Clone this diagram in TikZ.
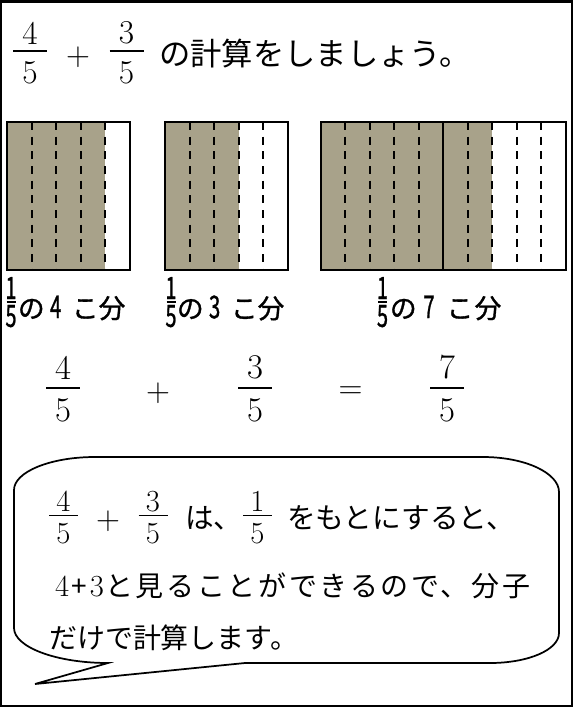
\documentclass[tikz,border=0pt]{standalone}
\usepackage{fontspec}
\usepackage{graphicx}
\usetikzlibrary{calc}
\newfontfamily\jp{Noto Sans CJK JP}
\newfontfamily\jpwide{Noto Sans CJK JP}[LetterSpace=9.5]
\newfontfamily\jpg{Noto Sans CJK JP}[FakeBold=1.2]
\definecolor{shadecol}{RGB}{168,162,138}
\newcommand\mfont{\fontsize{25}{25}\selectfont}
\newcommand\efont{\fontsize{26}{26}\selectfont}
\newcommand\bfont{\fontsize{23}{23}\selectfont}
\newcommand\gdfont{\jpg\fontsize{23}{23}\selectfont}
\newcommand\dg[1]{\scalebox{0.65}[1]{#1}}
\newcommand\ldg[1]{{\fontsize{23.5}{23.5}\selectfont\scalebox{0.65}[1]{#1}}}
\tikzset{
  fbar/.style={line width=1.2pt},
  fdig/.style={inner sep=0pt, outer sep=0pt},
  txt/.style={inner sep=0pt, outer sep=0pt, anchor=west},
  lbl/.style={inner sep=0pt, outer sep=0pt, anchor=west, font={\jpg\fontsize{20}{20}\selectfont}},
  dline/.style={line width=1.5pt, dash pattern=on 6pt off 5pt},
  boxline/.style={line width=2.2pt},
  midline/.style={line width=1.8pt},
  bubble/.style={line width=1.3pt, line join=miter},
  frame/.style={line width=1.6pt}
}
\newcommand\myfrac[9]{%
  \coordinate (#1) at (#2,#3);
  \draw[fbar] ($(#1)+(-#4,0)$) -- ($(#1)+(#4,0)$);
  \node[fdig, font=#9, anchor=south] (#1n) at ($(#1)+(0,-#7)$) {#5};
  \node[fdig, font=#9, anchor=north] (#1d) at ($(#1)+(0,#8)$) {#6};
}
\begin{document}
\begin{tikzpicture}[x=0.75pt,y=-0.75pt]
\useasboundingbox (0,0) rectangle (574,714);
\draw[frame] (1,1.5) rectangle (572,706);

% top line
\myfrac{t1}{30}{51}{17}{4}{5}{7}{10}{\mfont}
\node[fdig, font=\mfont] (tplus) at (78,57) {$+$};
\myfrac{t2}{126.5}{51}{17}{3}{5}{7}{10}{\mfont}
\node[txt, font={\jp\fontsize{23.5}{23.5}\selectfont}] (ttext) at (159,54) {の計算をしましょう。};

% box 1
\fill[shadecol] (7,122) rectangle (105.4,270);
\foreach \x in {31.6,56.2,80.8,105.4} \draw[dline] (\x,122) -- (\x,270);
\draw[boxline] (7,122) rectangle (130,270);
% box 2
\fill[shadecol] (165,122) rectangle (238.8,270);
\foreach \x in {189.6,214.2,238.8,263.4} \draw[dline] (\x,122) -- (\x,270);
\draw[boxline] (165,122) rectangle (288,270);
% box 3
\fill[shadecol] (321,122) rectangle (492.2,270);
\foreach \x in {345.4,369.8,394.2,418.6,467.6,492.2,516.8,541.4} \draw[dline] (\x,122) -- (\x,270);
\draw[midline] (443,122) -- (443,270);
\draw[boxline] (321,122) rectangle (566,270);

% labels
\myfrac{g1}{11}{302}{4.5}{\dg{1}}{\dg{5}}{3}{3}{\gdfont}
\node[lbl] (l1) at (18,308) {の\hspace{4pt}\ldg{4}\hspace{8pt}こ\hspace{0pt}分};
\myfrac{g2}{171}{302}{4.5}{\dg{1}}{\dg{5}}{3}{3}{\gdfont}
\node[lbl] (l2) at (177,308) {の\hspace{4pt}\ldg{3}\hspace{8pt}こ\hspace{0pt}分};
\myfrac{g3}{382.5}{302}{4.5}{\dg{1}}{\dg{5}}{3}{3}{\gdfont}
\node[lbl] (l3) at (390,308) {の\hspace{5pt}\ldg{7}\hspace{9pt}こ\hspace{1pt}分};

% middle equation
\myfrac{m1}{63}{388}{17}{4}{5}{9}{11}{\efont}
\node[fdig, font=\efont] (mplus) at (158,393) {$+$};
\myfrac{m2}{255}{388}{17}{3}{5}{9}{11}{\efont}
\node[fdig, font=\efont] (meq) at (350.5,393) {$=$};
\myfrac{m3}{447}{388}{17}{7}{5}{9}{11}{\efont}

% speech bubble
\draw[bubble] (14,490) .. controls (14,472) and (50,457) .. (95,457)
  -- (483,457) .. controls (525,457) and (559,473) .. (559,492)
  -- (559,633) .. controls (559,650) and (528,663) .. (490,663)
  -- (245,663) -- (35,684) -- (108,663)
  .. controls (56,663) and (14,647) .. (14,628) -- cycle;

% bubble text
\myfrac{b1}{63.5}{515.5}{14.5}{4}{5}{4}{8}{\bfont}
\node[fdig, font=\bfont] (bplus) at (108,521) {$+$};
\myfrac{b2}{153}{515.5}{14.5}{3}{5}{4}{8}{\bfont}
\node[txt, font={\jp\fontsize{21.5}{21.5}\selectfont}] (bt1) at (185,518) {は、};
\myfrac{b3}{257.5}{515.5}{14.5}{1}{5}{4}{8}{\bfont}
\node[txt, font={\jp\fontsize{21.5}{21.5}\selectfont}] (bt2) at (287,518) {をもとにすると、};
\node[txt] (bt3) at (55,586) {{\bfont 4}\hspace{2pt}{\jp\fontsize{21}{21}\selectfont +}\hspace{2pt}{\bfont 3}\hspace{1pt}{\jpwide\fontsize{21}{21}\selectfont と見ることができるので、分子}};
\node[txt, font={\jp\fontsize{21}{21}\selectfont}] (bt4) at (49,638) {だけで計算します。};
\end{tikzpicture}
\end{document}
